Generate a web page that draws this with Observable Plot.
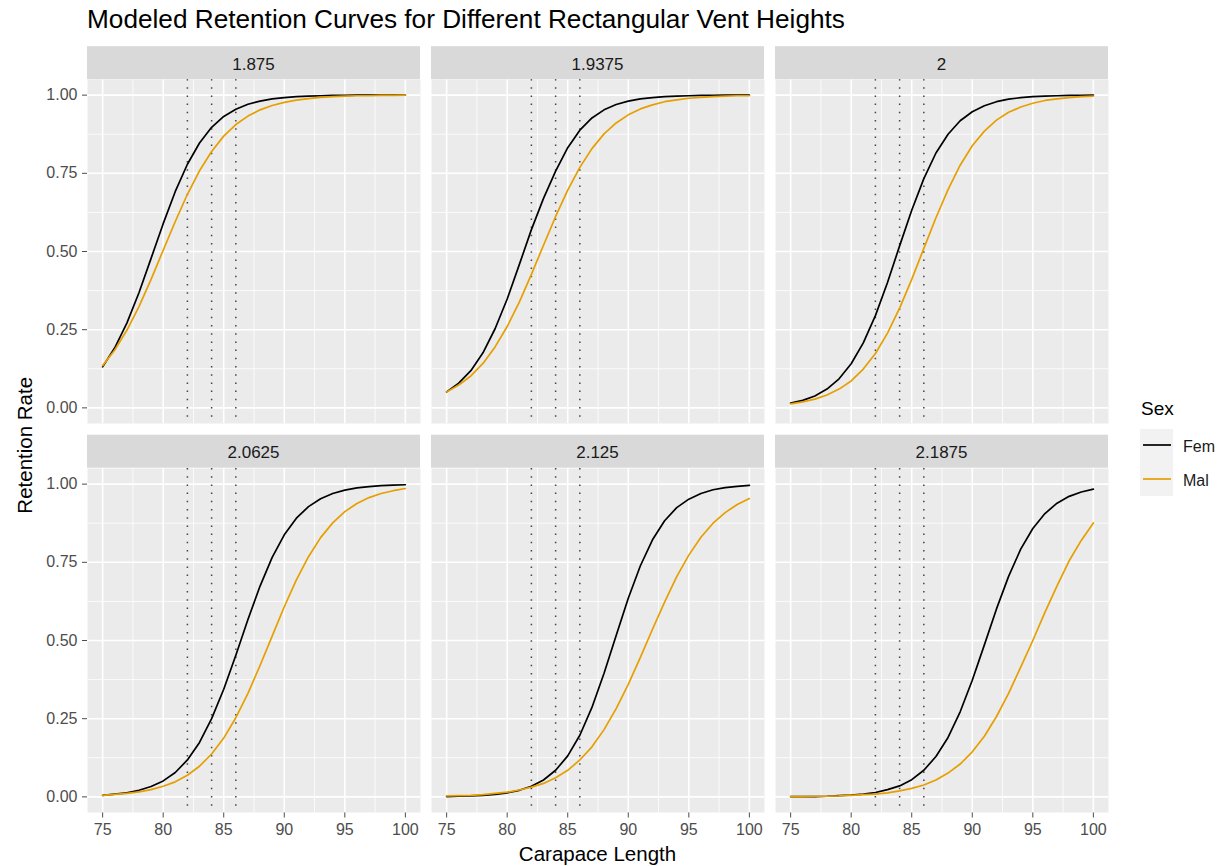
<!DOCTYPE html>
<html>
<head>
<meta charset="utf-8">
<script src="https://cdn.jsdelivr.net/npm/d3@7"></script>
<script src="https://cdn.jsdelivr.net/npm/@observablehq/plot@0.6"></script>
<style>
html, body { margin: 0; padding: 0; background: #ffffff; }
#root { position: relative; width: 1228px; height: 866px; overflow: hidden; font-family: "Liberation Sans", Arial, sans-serif; }
#root svg.panel { position: absolute; }
#overlay { position: absolute; left: 0; top: 0; }
</style>
</head>
<body>
<div id="root"></div>
<script>
// ---------------- data ----------------
const carapaceLength = [75,76,77,78,79,80,81,82,83,84,85,86,87,88,89,90,91,92,93,94,95,96,97,98,99,100];
const ventHeights = ["1.875", "1.9375", "2", "2.0625", "2.125", "2.1875"];
const sexes = ["Fem", "Mal"];
const sexColors = ["#000000", "#E69F00"];

const fem_1875   = [0.131,0.192,0.271,0.368,0.478,0.589,0.692,0.779,0.847,0.897,0.932,0.955,0.971,0.981,0.988,0.992,0.995,0.997,0.998,0.999,0.999,1.000,1.000,1.000,1.000,1.000];
const mal_1875   = [0.135,0.185,0.248,0.324,0.411,0.504,0.596,0.683,0.758,0.820,0.869,0.906,0.933,0.953,0.967,0.977,0.984,0.989,0.993,0.995,0.997,0.998,0.998,0.999,0.999,1.000];
const fem_19375  = [0.051,0.079,0.119,0.176,0.253,0.348,0.458,0.570,0.670,0.757,0.832,0.888,0.927,0.953,0.970,0.981,0.988,0.992,0.995,0.997,0.998,0.999,0.999,1.000,1.000,1.000];
const mal_19375  = [0.051,0.073,0.102,0.142,0.195,0.260,0.338,0.427,0.520,0.612,0.696,0.769,0.829,0.876,0.911,0.937,0.956,0.969,0.979,0.985,0.990,0.993,0.995,0.997,0.998,0.998];
const fem_2      = [0.015,0.024,0.038,0.060,0.093,0.141,0.208,0.295,0.401,0.518,0.632,0.733,0.815,0.875,0.918,0.947,0.966,0.979,0.987,0.992,0.995,0.997,0.998,0.999,0.999,1.000];
const mal_2      = [0.013,0.019,0.028,0.041,0.060,0.086,0.124,0.174,0.239,0.319,0.411,0.510,0.608,0.698,0.776,0.838,0.885,0.920,0.945,0.962,0.974,0.983,0.988,0.992,0.995,0.997];
const fem_20625  = [0.005,0.009,0.013,0.021,0.033,0.051,0.078,0.118,0.174,0.250,0.344,0.453,0.567,0.674,0.766,0.838,0.891,0.928,0.953,0.970,0.981,0.988,0.992,0.995,0.997,0.998];
const mal_20625  = [0.005,0.008,0.011,0.016,0.023,0.034,0.048,0.069,0.098,0.137,0.188,0.253,0.331,0.420,0.514,0.608,0.694,0.768,0.829,0.876,0.912,0.938,0.957,0.970,0.979,0.986];
const fem_2125   = [0.001,0.002,0.003,0.005,0.008,0.013,0.021,0.034,0.054,0.085,0.131,0.197,0.286,0.395,0.516,0.635,0.739,0.822,0.883,0.925,0.952,0.970,0.982,0.989,0.993,0.996];
const mal_2125   = [0.003,0.004,0.005,0.007,0.011,0.015,0.022,0.031,0.043,0.061,0.085,0.118,0.160,0.215,0.282,0.360,0.446,0.536,0.623,0.704,0.773,0.830,0.875,0.909,0.935,0.954];
const fem_21875  = [0.001,0.001,0.001,0.002,0.004,0.006,0.009,0.014,0.023,0.035,0.055,0.085,0.129,0.190,0.272,0.373,0.486,0.601,0.705,0.792,0.858,0.906,0.939,0.961,0.975,0.984];
const mal_21875  = [0.001,0.001,0.002,0.002,0.003,0.005,0.007,0.009,0.013,0.019,0.027,0.038,0.054,0.076,0.105,0.144,0.194,0.257,0.331,0.415,0.500,0.590,0.675,0.755,0.820,0.876];

const xTicks = [75, 80, 85, 90, 95, 100];
const xMinor = [77.5, 82.5, 87.5, 92.5, 97.5];
const yTicks = [0, 0.25, 0.5, 0.75, 1];
const yMinor = [0.125, 0.375, 0.625, 0.875];
const refLengths = [82, 84, 86];

const titleText = "Modeled Retention Curves for Different Rectangular Vent Heights";
const xTitle = "Carapace Length";
const yTitle = "Retention Rate";
const legendTitle = "Sex";

// build long table
const panelSeries = [
  [ventHeights[0], fem_1875, mal_1875],
  [ventHeights[1], fem_19375, mal_19375],
  [ventHeights[2], fem_2, mal_2],
  [ventHeights[3], fem_20625, mal_20625],
  [ventHeights[4], fem_2125, mal_2125],
  [ventHeights[5], fem_21875, mal_21875]
];
const rows = [];
for (const [vent, fem, mal] of panelSeries) {
  carapaceLength.forEach((x, i) => {
    rows.push({vent, sex: "Fem", x, y: fem[i]});
    rows.push({vent, sex: "Mal", x, y: mal[i]});
  });
}

// ---------------- layout ----------------
const FONT = '"Liberation Sans", Arial, sans-serif';
const colLeft = [87, 431, 775];
const panelW = 333;
const panelTop = [79.2, 467.7];
const panelH = 344;
const stripH = 33;
const root = document.getElementById("root");

ventHeights.forEach((vent, idx) => {
  const r = Math.floor(idx / 3), c = idx % 3;
  const isLeft = c === 0, isBottom = r === 1;
  const ml = isLeft ? 87 : 0;
  const mb = isBottom ? 40 : 0;
  const chart = Plot.plot({
    width: ml + panelW,
    height: panelH + mb,
    marginLeft: ml, marginRight: 0, marginTop: 0, marginBottom: mb,
    x: {domain: [73.75, 101.25], ticks: xTicks, tickFormat: d => String(d), tickSize: 5.5, tickPadding: 6, label: null, axis: isBottom ? "bottom" : null},
    y: {domain: [-0.05, 1.05], ticks: yTicks, tickFormat: d => d.toFixed(2), tickSize: 5, tickPadding: 5, label: null, axis: isLeft ? "left" : null},
    color: {domain: sexes, range: sexColors},
    style: {fontSize: "16px", fontFamily: FONT, color: "#4d4d4d", background: "transparent", overflow: "visible"},
    marks: [
      Plot.frame({fill: "#ebebeb", stroke: "none"}),
      Plot.ruleX(xMinor, {stroke: "#ffffff", strokeWidth: 0.8}),
      Plot.ruleY(yMinor, {stroke: "#ffffff", strokeWidth: 0.8}),
      Plot.ruleX(xTicks, {stroke: "#ffffff", strokeWidth: 1.6}),
      Plot.ruleY(yTicks, {stroke: "#ffffff", strokeWidth: 1.6}),
      Plot.ruleX(refLengths, {stroke: "#444444", strokeWidth: 1.5, strokeDasharray: "1.5,6.7"}),
      Plot.line(rows.filter(d => d.vent === vent), {x: "x", y: "y", stroke: "sex", strokeWidth: 1.7, curve: "linear"})
    ]
  });
  chart.classList.add("panel");
  chart.style.left = (colLeft[c] - ml) + "px";
  chart.style.top = panelTop[r] + "px";
  chart.style.position = "absolute";
  root.appendChild(chart);
});

// ---------------- overlay: strips, titles, legend ----------------
const ns = "http://www.w3.org/2000/svg";
const ov = document.createElementNS(ns, "svg");
ov.setAttribute("id", "overlay");
ov.setAttribute("width", 1228);
ov.setAttribute("height", 866);
ov.style.fontFamily = FONT;
function el(name, attrs, text) {
  const e = document.createElementNS(ns, name);
  for (const k in attrs) e.setAttribute(k, attrs[k]);
  if (text != null) e.textContent = text;
  ov.appendChild(e);
  return e;
}
ventHeights.forEach((vent, idx) => {
  const r = Math.floor(idx / 3), c = idx % 3;
  const top = panelTop[r] - stripH;
  el("rect", {x: colLeft[c], y: top, width: panelW, height: stripH, fill: "#d9d9d9"});
  el("text", {x: colLeft[c] + panelW / 2, y: top + 23.3, "text-anchor": "middle", "font-size": 17, fill: "#1a1a1a"}, vent);
});
el("text", {x: 87, y: 28, "font-size": 26.2, fill: "#000000"}, titleText);
el("text", {x: 597.5, y: 861, "text-anchor": "middle", "font-size": 20.5, fill: "#000000"}, xTitle);
el("text", {transform: "translate(32.3,445.3) rotate(-90)", "text-anchor": "middle", "font-size": 20.5, fill: "#000000"}, yTitle);
// legend
el("text", {x: 1141, y: 415, "font-size": 19, fill: "#000000"}, legendTitle);
el("rect", {x: 1140, y: 429, width: 33, height: 67, fill: "#f2f2f2"});
sexes.forEach((s, i) => {
  const cy = 445 + i * 34;
  el("line", {x1: 1143, x2: 1171, y1: cy, y2: cy, stroke: sexColors[i], "stroke-width": 1.7});
  el("text", {x: 1183, y: cy + 6.7, "font-size": 16, fill: "#1a1a1a"}, s);
});
root.appendChild(ov);
</script>
</body>
</html>
